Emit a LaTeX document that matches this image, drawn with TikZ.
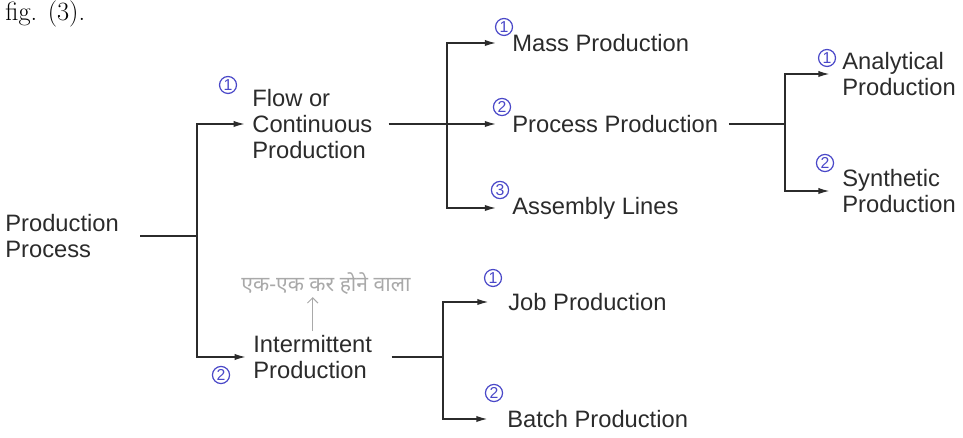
\documentclass[tikz,border=0pt]{standalone}
\usepackage{fontspec}
\newfontfamily\diagfont{Liberation Sans}
\newfontfamily\devfont[Script=Devanagari]{Noto Sans}
\usepackage{tikz}
\usetikzlibrary{arrows.meta, positioning, calc}
\definecolor{ink}{HTML}{2B2B2B}
\definecolor{penblue}{HTML}{4A48C8}
\definecolor{pencil}{HTML}{A9A9A9}
\tikzset{
    item/.style={text=ink, font=\diagfont\fontsize{13.5}{15}\selectfont, align=left, inner xsep=4pt, inner ysep=2pt, anchor=west},
    link/.style={draw=ink, line width=0.9pt},
    arr/.style={link, -{Latex[length=6.5pt,width=3.6pt]}},
    num/.style={circle, draw=penblue, text=penblue, line width=0.7pt, inner sep=0.6pt, font=\diagfont\fontsize{9}{9}\selectfont},
    note/.style={text=pencil, font=\devfont\fontsize{12}{12}\selectfont, inner sep=1pt}
}

\begin{document}
\begin{tikzpicture}[x=0.02cm, y=-0.02cm]
    \useasboundingbox (0,0) rectangle (963,438);

    \node[anchor=base west, inner sep=0pt, font=\fontsize{15}{15}\selectfont] (fig) at (5,21) {fig. (3).};

    % main nodes
    \node[item] (root) at (-2,236) {Production\\Process};
    \node[item] (flow) at (245,124) {Flow or\\Continuous\\Production};
    \node[item] (inter) at (246,357) {Intermittent\\Production};

    \node[item] (mass) at (505,43) {Mass Production};
    \node[item] (process) at (505,124) {Process Production};
    \node[item] (assembly) at (505,208) {Assembly Lines};
    \node[item] (job) at (501,302) {Job Production};
    \node[item] (batch) at (500,419) {Batch Production};

    \node[item] (analytical) at (835,74) {Analytical\\Production};
    \node[item] (synthetic) at (835,191) {Synthetic\\Production};

    \coordinate (j1) at (197,236);
    \coordinate (j2) at (447,124);
    \coordinate (j3) at (785,124);
    \coordinate (j4) at (443,357);

    % connectors
    \draw[link, shorten <=8pt] (root.east) -- (j1);
    \draw[arr] (j1) |- (flow.west);
    \draw[arr] (j1) |- (inter.west);

    \draw[link, shorten <=5pt] (flow.east) -- (j2);
    \draw[arr, shorten >=5pt] (j2) |- (mass.west);
    \draw[arr, shorten >=5pt] (j2) -- (process.west);
    \draw[arr, shorten >=5pt] (j2) |- (assembly.west);

    \draw[link, shorten <=2pt] (process.east) -- (j3);
    \draw[arr, shorten >=3pt] (j3) |- (analytical.west);
    \draw[arr, shorten >=3pt] (j3) |- (synthetic.west);

    \draw[link, shorten <=7pt] (inter.east) -- (j4);
    \draw[arr, shorten >=7pt] (j4) |- (job.west);
    \draw[arr, shorten >=7pt] (j4) |- (batch.west);

    % hand-written marks
    \node[num] (n1) at (228,85) {1};
    \node[num] (n2) at (221,375) {2};
    \node[num] (n11) at (504,27) {1};
    \node[num] (n12) at (502,107) {2};
    \node[num] (n13) at (500,190) {3};
    \node[num] (n21) at (493,278) {1};
    \node[num] (n22) at (494,393) {2};
    \node[num] (n31) at (827,58) {1};
    \node[num] (n32) at (825,163) {2};

    \node[note] (hindi) at (326,284) {एक-एक कर होने वाला};
    \draw[draw=pencil, line width=0.6pt, -{Straight Barb[length=3pt]}] (inter.north) -- (inter.north |- hindi.south);
\end{tikzpicture}
\end{document}
